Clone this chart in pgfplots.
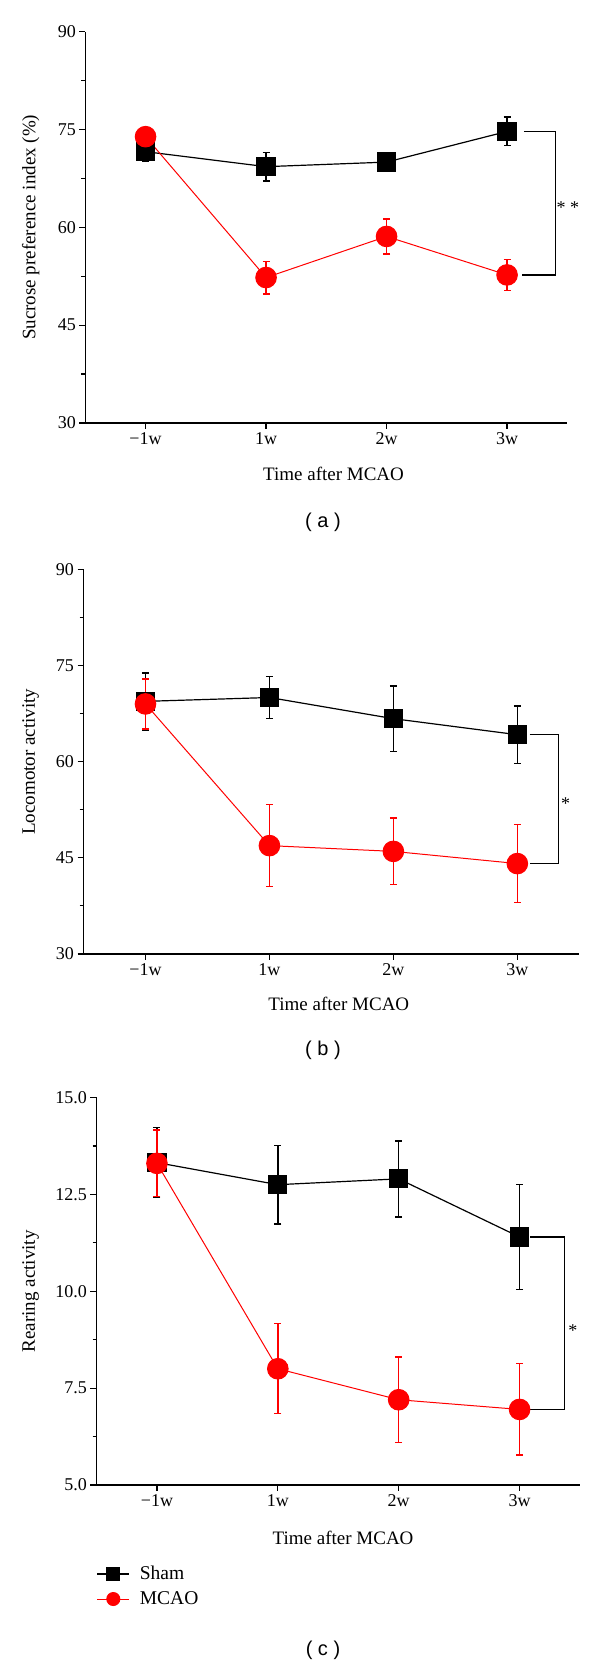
\documentclass[border=0pt]{standalone}
\usepackage{fontspec}
\setmainfont{Liberation Serif}
\newfontfamily\capfont{Liberation Sans}
\usepackage{pgfplots}
\pgfplotsset{compat=1.18}
\pgfplotsset{
  myaxis/.style={
    scale only axis,
    axis x line*=bottom, axis y line*=left,
    axis line style={line width=1.2bp},
    xmin=-0.5, xmax=3.5,
    xtick={0,1,2,3}, xticklabels={−1w,1w,2w,3w},
    tick align=outside,
    major tick length=6bp, minor tick length=4bp,
    every tick/.style={black, line width=1.2bp},
    minor y tick num=1,
    tick label style={font=\fontsize{18bp}{21bp}\selectfont},
    label style={font=\fontsize{19bp}{22bp}\selectfont},
    /pgf/number format/assume math mode=true,
    clip=false,
    xlabel={Time after MCAO},
    xlabel style={at={(axis description cs:0.515,-0.13)}, anchor=center},
  },
  sham/.style={black, line width=1.2bp, mark=square*, mark size=9bp,
    mark options={solid, fill=black},
    error bars/.cd, y dir=both, y explicit,
    error bar style={line width=1.4bp, black},
    error mark options={rotate=90, mark size=3.5bp, line width=1.4bp, black}},
  mcao/.style={red, line width=1bp, mark=*, mark size=10.3bp,
    mark options={solid, fill=red, draw=red},
    error bars/.cd, y dir=both, y explicit,
    error bar style={line width=1.4bp, red},
    error mark options={rotate=90, mark size=3.5bp, line width=1.4bp, red}},
}
\begin{document}
\begin{tikzpicture}[x=1bp,y=1bp]
\useasboundingbox (0,0) rectangle (600,1663);

% ---------- (a)
\begin{axis}[myaxis, at={(85.3bp,1240bp)}, anchor=south west,
  width=482bp, height=391.3bp,
  ymin=30, ymax=90, ytick={30,45,60,75,90},
  ylabel={Sucrose preference index (\%)},
  ylabel style={at={(axis description cs:-0.1135,0.5)}, anchor=center}]
\addplot[sham] table[x=x, y=y, y error=e] {
x y e
0 71.6 1.5
1 69.3 2.2
2 70.0 0.9
3 74.7 2.2
};
\addplot[mcao] table[x=x, y=y, y error=e] {
x y e
0 73.9 0.6
1 52.3 2.5
2 58.6 2.7
3 52.7 2.4
};
\draw[line width=1.2bp] (axis cs:3.14,74.7) -- (axis cs:3.40,74.7) -- (axis cs:3.40,52.7) -- (axis cs:3.12,52.7);
\node[font=\fontsize{18bp}{21bp}\selectfont, yshift=-3bp] at (axis cs:3.505,63.5) {* *};
\end{axis}

% ---------- (b)
\begin{axis}[myaxis, at={(83.5bp,709bp)}, anchor=south west,
  width=495.8bp, height=384.7bp,
  ymin=30, ymax=90, ytick={30,45,60,75,90},
  ylabel={Locomotor activity},
  ylabel style={at={(axis description cs:-0.1067,0.5)}, anchor=center}]
\addplot[sham] table[x=x, y=y, y error=e] {
x y e
0 69.4 4.45
1 70.0 3.3
2 66.7 5.1
3 64.2 4.45
};
\addplot[mcao] table[x=x, y=y, y error=e] {
x y e
0 69.0 3.9
1 46.9 6.4
2 46.0 5.2
3 44.1 6.1
};
\draw[line width=1.2bp] (axis cs:3.10,64.2) -- (axis cs:3.33,64.2) -- (axis cs:3.33,44.1) -- (axis cs:3.10,44.1);
\node[font=\fontsize{18bp}{21bp}\selectfont, yshift=-3bp] at (axis cs:3.39,53.9) {*};
\end{axis}

% ---------- (c)
\begin{axis}[myaxis, at={(96.5bp,178bp)}, anchor=south west,
  width=483.5bp, height=387.5bp,
  ymin=5, ymax=15, ytick={5,7.5,10,12.5,15},
  yticklabel style={/pgf/number format/.cd, fixed, fixed zerofill, precision=1},
  ylabel={Rearing activity},
  ylabel style={at={(axis description cs:-0.136,0.5)}, anchor=center},
  xlabel style={at={(axis description cs:0.51,-0.137)}, anchor=center},
  legend style={draw=none, fill=none, at={(axis description cs:0,-0.206)}, anchor=north west,
    font=\fontsize{19.5bp}{22bp}\selectfont, column sep=10bp, row sep=7bp,
    inner sep=0pt, nodes={inner sep=0pt, text height=14bp, text depth=4bp}},
  legend cell align=left,
  legend image code/.code={\draw[mark repeat=2,mark phase=2,#1,mark size=6.5bp] plot coordinates {(0bp,0bp) (16bp,0bp) (32bp,0bp)};}]
\addplot[sham] table[x=x, y=y, y error=e] {
x y e
0 13.32 0.9
1 12.75 1.01
2 12.90 0.98
3 11.40 1.36
};
\addplot[mcao] table[x=x, y=y, y error=e] {
x y e
0 13.30 0.86
1 8.00 1.16
2 7.20 1.10
3 6.95 1.18
};
\legend{Sham, MCAO}
\draw[line width=1.2bp] (axis cs:3.09,11.4) -- (axis cs:3.37,11.4) -- (axis cs:3.37,6.95) -- (axis cs:3.09,6.95);
\node[font=\fontsize{18bp}{21bp}\selectfont, yshift=-3bp] at (axis cs:3.44,9.05) {*};
\end{axis}

\node[font=\capfont\fontsize{20bp}{24bp}\selectfont] at (323,1141) {( a )};
\node[font=\capfont\fontsize{20bp}{24bp}\selectfont] at (323,613) {( b )};
\node[font=\capfont\fontsize{20bp}{24bp}\selectfont] at (323,13) {( c )};
\end{tikzpicture}
\end{document}
